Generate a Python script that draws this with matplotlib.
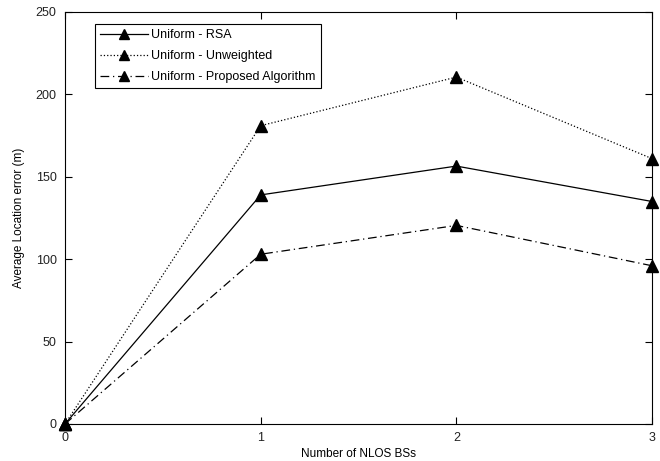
import numpy as np
import matplotlib
matplotlib.use("Agg")
import matplotlib.pyplot as plt

plt.rcParams['font.family'] = ['Liberation Sans', 'DejaVu Sans']

nlos = [0, 1, 2, 3]
rsa = [0, 139, 156.5, 135]
unweighted = [0, 181, 210.5, 161]
proposed = [0, 103, 120.5, 96]

fig = plt.figure(figsize=(6.6, 4.61), dpi=100)
ax = fig.add_axes([0.0985, 0.0803, 0.8895, 0.8937])

mk = dict(marker='^', markersize=8, markerfacecolor='k', markeredgecolor='k', color='k',
          linewidth=0.9, clip_on=False, zorder=3)
ax.plot(nlos, rsa, linestyle='-', label='Uniform - RSA', **mk)
ax.plot(nlos, unweighted, linestyle=':', label='Uniform - Unweighted', **mk)
ax.plot(nlos, proposed, linestyle=(0, (7, 3, 1, 3)), label='Uniform - Proposed Algorithm', **mk)

ax.set_xlim(0, 3)
ax.set_ylim(0, 250)
ax.set_xticks([0, 1, 2, 3])
ax.set_yticks([0, 50, 100, 150, 200, 250])
ax.tick_params(direction='in', top=True, right=True, labelsize=9, length=5, width=0.8, pad=6)
for s in ax.spines.values():
    s.set_linewidth(0.8)
ax.set_xlabel('Number of NLOS BSs', fontsize=8.5, labelpad=3)
ax.set_ylabel('Average Location error (m)', fontsize=8.5, labelpad=8)
for o in ax.get_xticklabels() + ax.get_yticklabels():
    o.set_color('#222222')

leg = ax.legend(loc='upper left', bbox_to_anchor=(30 / 587, 1 - 12 / 412), borderaxespad=0,
                fontsize=9, fancybox=False, edgecolor='k', framealpha=1,
                handlelength=3.8, handletextpad=0.3, labelspacing=0.72, markerscale=0.85)
leg.get_frame().set_linewidth(0.8)
leg.set_zorder(5)

fig.savefig('out.png', dpi=100)
